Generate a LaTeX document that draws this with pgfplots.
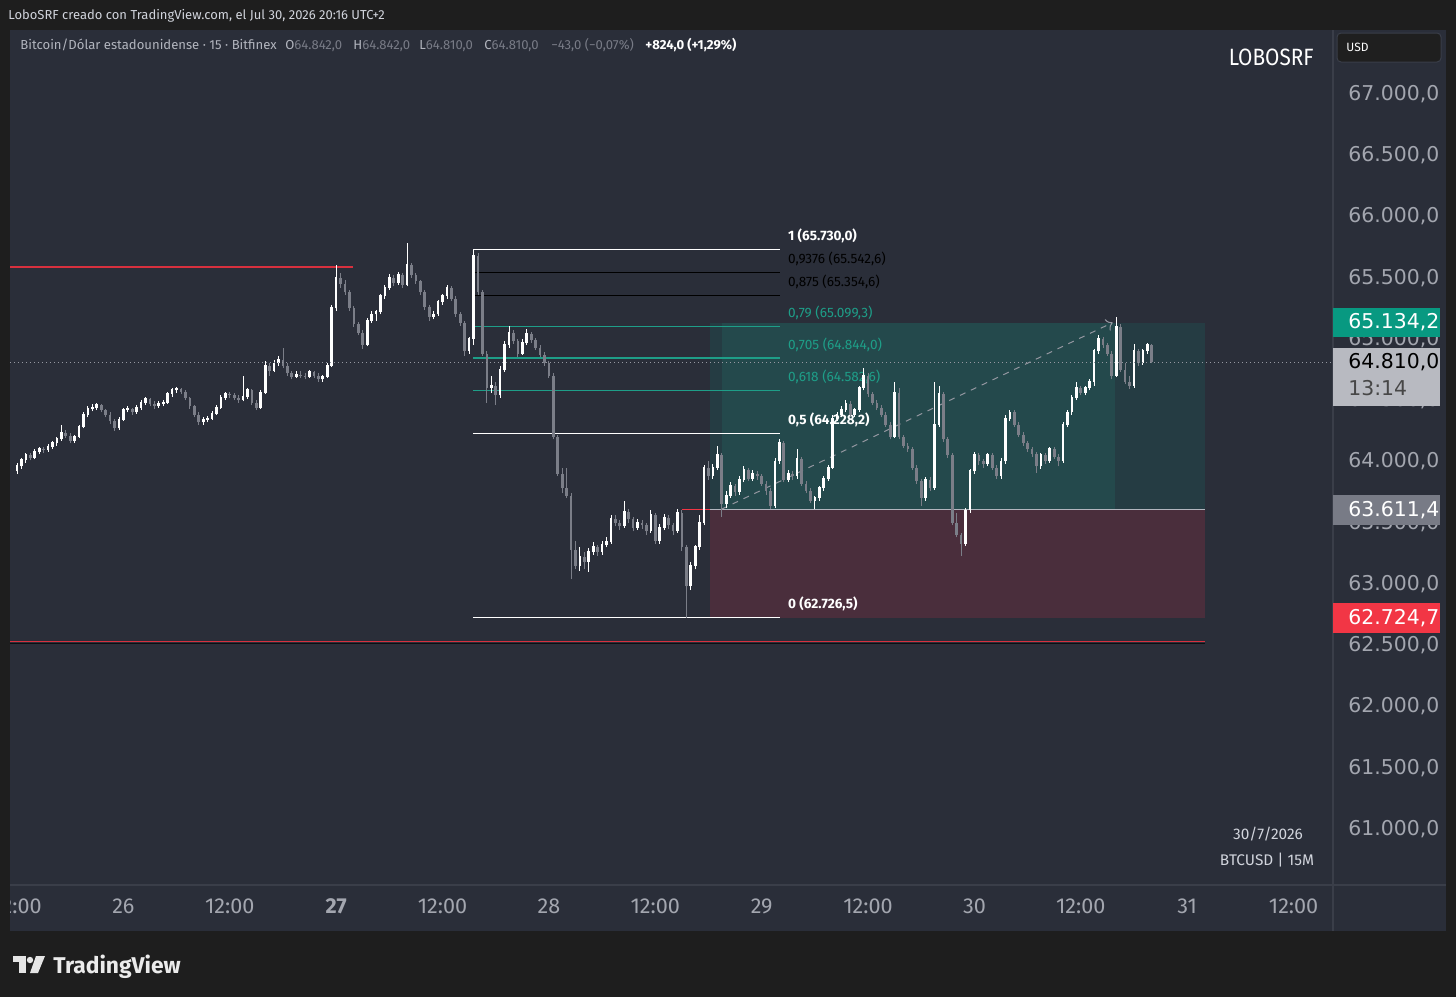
\documentclass[border=0pt]{standalone}
\usepackage{fontspec}
\setmainfont{Fira Sans}
\newfontfamily\dvs{DejaVu Sans}
\usepackage{graphicx}
\usepackage{pgfplots}
\pgfplotsset{compat=1.18}
\usepackage{pgfplotstable}
\usetikzlibrary{arrows.meta}
\definecolor{topbar}{HTML}{1E1E1E}
\definecolor{chartbg}{HTML}{2A2E39}
\definecolor{sep}{HTML}{3A3E49}
\definecolor{tickc}{HTML}{A3A6AF}
\definecolor{upc}{HTML}{FFFFFF}
\definecolor{dnc}{HTML}{7B7E88}
\definecolor{tvred}{HTML}{F23645}
\definecolor{lvred}{HTML}{D8303E}
\definecolor{tvgreen}{HTML}{089981}
\definecolor{fibteal}{HTML}{1E9E88}
\definecolor{glight}{RGB}{36,73,76}
\definecolor{gdark}{RGB}{37,60,67}
\definecolor{rzone}{RGB}{74,46,60}
\definecolor{lgrey}{HTML}{B2B5BE}
\definecolor{dgrey}{HTML}{787B86}
\definecolor{boxgrey}{HTML}{B8BAC1}
\definecolor{txt}{HTML}{D1D4DC}
\definecolor{dotc}{HTML}{9598A1}

\pgfplotstableread{
o h l c
63920 63990 63900 63960
63960 64030 63940 64010
64010 64070 63990 64050
64050 64070 64010 64030
64030 64100 64020 64080
64080 64120 64060 64100
64100 64120 64070 64090
64090 64140 64080 64120
64120 64170 64100 64150
64150 64200 64130 64180
64180 64300 64170 64230
64230 64260 64190 64210
64210 64230 64150 64170
64170 64220 64150 64200
64200 64300 64190 64280
64280 64400 64270 64380
64380 64450 64360 64430
64430 64470 64410 64440
64440 64480 64420 64460
64460 64470 64400 64420
64420 64430 64360 64380
64380 64400 64310 64330
64330 64350 64250 64270
64270 64360 64260 64340
64340 64440 64330 64420
64420 64450 64400 64430
64430 64440 64380 64400
64400 64460 64390 64440
64440 64500 64420 64480
64480 64530 64460 64510
64510 64520 64450 64470
64470 64490 64430 64450
64450 64490 64440 64470
64470 64500 64450 64480
64480 64570 64470 64550
64550 64600 64530 64580
64580 64610 64560 64590
64590 64600 64550 64570
64570 64580 64500 64520
64520 64530 64430 64450
64450 64460 64360 64380
64380 64400 64300 64320
64320 64360 64300 64340
64340 64370 64320 64350
64350 64410 64340 64390
64390 64460 64380 64440
64440 64540 64430 64520
64520 64570 64500 64550
64550 64570 64520 64540
64540 64560 64500 64520
64520 64540 64480 64500
64500 64700 64490 64530
64530 64600 64510 64580
64580 64590 64460 64480
64480 64500 64420 64440
64440 64580 64430 64560
64560 64820 64550 64780
64780 64800 64700 64740
64740 64830 64730 64800
64800 64860 64780 64830
64830 64930 64760 64780
64780 64800 64700 64720
64720 64740 64670 64690
64690 64740 64680 64710
64710 64740 64680 64700
64700 64720 64670 64690
64690 64750 64680 64730
64730 64740 64680 64700
64700 64720 64650 64670
64670 64710 64650 64690
64690 64800 64680 64780
64780 65280 64770 65250
65250 65600 65230 65500
65500 65540 65420 65450
65450 65480 65360 65380
65380 65400 65230 65250
65250 65270 65100 65120
65120 65140 65030 65050
65050 65070 64920 64950
64950 65170 64940 65150
65150 65230 65130 65200
65200 65240 65150 65220
65220 65370 65200 65350
65350 65440 65330 65420
65420 65530 65400 65500
65500 65520 65430 65460
65460 65550 65440 65520
65520 65540 65420 65440
65440 65780 65430 65600
65600 65620 65500 65520
65520 65540 65450 65470
65470 65480 65360 65380
65380 65400 65240 65260
65260 65280 65150 65180
65180 65230 65160 65200
65200 65320 65190 65300
65300 65370 65280 65350
65350 65440 65330 65420
65420 65430 65310 65330
65330 65350 65180 65200
65200 65220 65110 65130
65130 65150 64860 64900
64900 65020 64880 65000
65000 65730 64950 65680
65680 65700 65360 65380
65380 65400 64860 64880
64880 64900 64480 64600
64600 64700 64560 64620
64620 64650 64460 64540
64540 64780 64520 64750
64750 64980 64730 64950
64950 65110 64930 65050
65050 65070 64960 64980
64980 65000 64850 64880
64880 65000 64870 64970
64970 65080 64950 65040
65040 65060 64970 64990
64990 65010 64910 64930
64930 64950 64850 64870
64870 64890 64780 64800
64800 64820 64680 64700
64700 64720 64180 64200
64200 64220 63880 63900
63900 63950 63740 63780
63780 63950 63700 63720
63720 63740 63040 63280
63280 63350 63120 63150
63150 63300 63110 63220
63220 63260 63120 63180
63180 63290 63100 63260
63260 63340 63240 63300
63300 63320 63230 63260
63260 63350 63240 63320
63320 63380 63300 63340
63340 63560 63330 63530
63530 63560 63470 63500
63500 63520 63440 63470
63470 63680 63460 63590
63590 63610 63500 63530
63530 63550 63430 63460
63460 63530 63440 63500
63500 63520 63450 63480
63480 63500 63400 63430
63430 63600 63420 63560
63560 63580 63330 63350
63350 63490 63330 63460
63460 63570 63440 63540
63540 63560 63450 63480
63480 63500 63400 63430
63430 63610 63420 63580
63580 63600 63270 63300
63300 63320 62726 62980
62980 63180 62950 63150
63150 63320 63120 63300
63300 63560 63280 63500
63500 63970 63480 63950
63950 64000 63850 63880
63880 63980 63860 63950
63950 64130 63930 64050
64050 64070 63550 63650
63650 63760 63620 63720
63720 63830 63700 63800
63800 63820 63720 63750
63750 63880 63730 63850
63850 63960 63830 63930
63930 63950 63840 63860
63860 63930 63840 63900
63900 63920 63850 63880
63880 63900 63800 63820
63820 63840 63730 63760
63760 63780 63610 63640
63640 64030 63620 64000
64000 64180 63980 64150
64150 64170 63830 63850
63850 63930 63830 63900
63900 63920 63850 63880
63880 64100 63860 64020
64020 64040 63800 63820
63820 63840 63740 63760
63760 63780 63660 63680
63680 63720 63610 63700
63700 63800 63680 63780
63780 63880 63760 63860
63860 63970 63840 63950
63950 64380 63940 64350
64350 64400 64330 64380
64380 64450 64360 64420
64420 64500 64400 64470
64470 64490 64360 64380
64380 64440 64360 64420
64420 64620 64400 64600
64600 64760 64580 64700
64700 64720 64530 64550
64550 64570 64460 64480
64480 64500 64420 64440
64440 64460 64360 64380
64380 64400 64280 64300
64300 64320 64180 64200
64200 64650 64190 64560
64560 64600 64180 64200
64200 64220 64110 64130
64130 64150 64080 64100
64100 64120 63930 63950
63950 63970 63820 63840
63840 63860 63640 63700
63700 63870 63680 63850
63850 63870 63760 63780
63780 64650 63770 64300
64300 64620 64280 64550
64550 64570 64160 64180
64180 64200 64030 64050
64050 64070 63480 63500
63500 63580 63380 63400
63400 63420 63230 63330
63330 63620 63310 63600
63600 63940 63580 63920
63920 64080 63900 64050
64050 64070 63970 64000
64000 64020 63950 63980
63980 64070 63960 64050
64050 64070 63930 63950
63950 63970 63860 63880
63880 64030 63860 64000
64000 64380 63980 64350
64350 64420 64330 64400
64400 64420 64280 64300
64300 64320 64200 64220
64220 64240 64130 64150
64150 64170 64080 64100
64100 64120 64040 64060
64060 64080 63910 63960
63960 64070 63940 64050
64050 64070 63980 64000
64000 64120 63990 64100
64100 64120 64020 64040
64040 64060 63960 64000
64000 64320 63990 64300
64300 64420 64280 64400
64400 64540 64380 64520
64520 64650 64500 64600
64600 64620 64540 64560
64560 64620 64540 64600
64600 64670 64580 64650
64650 64920 64620 64900
64900 65030 64880 65000
65000 65020 64930 64950
64950 64970 64860 64880
64880 64900 64670 64700
64700 65180 64690 65100
65100 65120 64730 64750
64750 64800 64630 64650
64650 64700 64590 64620
64620 64960 64600 64900
64900 64920 64780 64800
64800 64920 64790 64900
64900 64970 64880 64950
64950 64960 64800 64810
}\candles

\begin{document}
\begin{tikzpicture}
\begin{scope}[x=0.5pt,y=-0.5pt]
\fill[topbar] (0,0) rectangle (1456,997);
\fill[chartbg] (10,30) rectangle (1446,931);
\draw[sep, line width=0.6pt] (1333,30) -- (1333,931);
\draw[sep, line width=0.6pt] (10,885) -- (1446,885);
\end{scope}
\begin{axis}[
  at={(5pt,-442.5pt)}, anchor=south west,
  width=661.5pt, height=427.5pt, scale only axis,
  xmin=-1.58, xmax=296.9, ymin=60543, ymax=67522,
  clip=false,
  axis line style={draw=none},
  tick style={draw=none}, major tick length=0pt,
  scaled y ticks=false,
  ytick={61000,61500,...,67000},
  yticklabel pos=right,
  yticklabel style={anchor=west, inner sep=0pt, xshift=7.5pt, font=\dvs\fontsize{10.2}{12}\selectfont, text=tickc, /pgf/number format/.cd, fixed, fixed zerofill, precision=1, 1000 sep={.}, dec sep={,}, assume math mode=true},
  xtick={0,24,...,288},
  xticklabels={12:00,26,12:00,\textbf{27},12:00,28,12:00,29,12:00,30,12:00,31,12:00},
  xticklabel style={anchor=base, inner sep=0pt, yshift=-14pt, font=\fontsize{10.8}{12}\selectfont, text=tickc},
]
% position tool
\fill[rzone] (axis cs:156.3,62724.7) rectangle (axis cs:268,63611.4);
\fill[gdark] (axis cs:156.3,63611.4) rectangle (axis cs:268,65134.2);
\fill[glight] (axis cs:159,63611.4) rectangle (axis cs:247.7,65134.2);
\draw[lgrey, line width=0.6pt] (axis cs:156.3,63611.4) -- (axis cs:268,63611.4);
\draw[dotc, dash pattern=on 3pt off 3pt, line width=0.5pt, -{To[length=3pt]}] (axis cs:159,63611.4) -- (axis cs:247.2,65134.2);
% red levels
\draw[lvred, line width=0.8pt] (axis cs:-1.58,65590) -- (axis cs:75.8,65590);
\draw[black!70!chartbg, line width=0.5pt] (axis cs:-1.58,62515) -- (axis cs:268,62515);
\draw[lvred, line width=0.8pt] (axis cs:-1.58,62530) -- (axis cs:268,62530);
\draw[tvred, line width=0.6pt] (axis cs:150,63611.4) -- (axis cs:156.3,63611.4);
% fibonacci
\draw[white, line width=0.9pt] (axis cs:102.9,65730) -- (axis cs:172.1,65730);
\draw[black, line width=0.6pt] (axis cs:102.9,65542.6) -- (axis cs:172.1,65542.6);
\draw[black, line width=0.6pt] (axis cs:102.9,65354.6) -- (axis cs:172.1,65354.6);
\draw[fibteal, line width=0.6pt] (axis cs:102.9,65099.3) -- (axis cs:172.1,65099.3);
\draw[fibteal, line width=0.6pt] (axis cs:102.9,64844.0) -- (axis cs:172.1,64844.0);
\draw[fibteal, line width=0.6pt] (axis cs:102.9,64582.6) -- (axis cs:172.1,64582.6);
\draw[white, line width=0.9pt] (axis cs:102.9,64228.2) -- (axis cs:172.1,64228.2);
\draw[white, line width=0.9pt] (axis cs:102.9,62726.5) -- (axis cs:172.1,62726.5);
\begin{scope}[every node/.style={anchor=base west, inner sep=0pt, yshift=4.5pt, font=\fontsize{6.8}{8}\selectfont}]
\node[text=white, font=\fontsize{6.8}{8}\selectfont\bfseries] at (axis cs:173.9,65730) {1 (65.730,0)};
\node[text=black] at (axis cs:173.9,65542.6) {0,9376 (65.542,6)};
\node[text=black] at (axis cs:173.9,65354.6) {0,875 (65.354,6)};
\node[text=fibteal] at (axis cs:173.9,65099.3) {0,79 (65.099,3)};
\node[text=fibteal] at (axis cs:173.9,64844.0) {0,705 (64.844,0)};
\node[text=fibteal] at (axis cs:173.9,64582.6) {0,618 (64.582,6)};
\node[text=white, font=\fontsize{6.8}{8}\selectfont\bfseries] at (axis cs:173.9,64228.2) {0,5 (64.228,2)};
\node[text=white, font=\fontsize{6.8}{8}\selectfont\bfseries] at (axis cs:173.9,62726.5) {0 (62.726,5)};
\end{scope}
% candles: wicks
\addplot[draw=none, mark=none, forget plot, error bars/.cd, y dir=plus, y explicit, error mark=none, error bar style={draw=upc, line width=0.45pt}]
  table[x expr=\coordindex, y expr={\thisrow{c}<\thisrow{o} ? nan : \thisrow{l}}, y error plus expr={\thisrow{h}-\thisrow{l}}] {\candles};
\addplot[draw=none, mark=none, forget plot, error bars/.cd, y dir=plus, y explicit, error mark=none, error bar style={draw=dnc, line width=0.45pt}]
  table[x expr=\coordindex, y expr={\thisrow{c}<\thisrow{o} ? \thisrow{l} : nan}, y error plus expr={\thisrow{h}-\thisrow{l}}] {\candles};
% candles: bodies
\addplot[draw=none, mark=none, forget plot, error bars/.cd, y dir=plus, y explicit, error mark=none, error bar style={draw=upc, line width=1.35pt}]
  table[x expr=\coordindex, y expr={\thisrow{c}<\thisrow{o} ? nan : \thisrow{o}}, y error plus expr={\thisrow{c}-\thisrow{o}+8}] {\candles};
\addplot[draw=none, mark=none, forget plot, error bars/.cd, y dir=plus, y explicit, error mark=none, error bar style={draw=dnc, line width=1.35pt}]
  table[x expr=\coordindex, y expr={\thisrow{c}<\thisrow{o} ? \thisrow{c} : nan}, y error plus expr={\thisrow{o}-\thisrow{c}}] {\candles};
% current price dotted line
\draw[dotc, line width=0.5pt, dash pattern=on 0.6pt off 1.4pt] (axis cs:-1.58,64810) -- (axis cs:296.9,64810);
\end{axis}
\begin{scope}[x=0.5pt,y=-0.5pt]
\fill[topbar] (0,30) rectangle (10,931);
\fill[topbar] (1446,30) rectangle (1456,931);
% price labels
\fill[tvgreen] (1333,308) rectangle (1440,337);
\node[anchor=west, inner sep=0pt, text=white, font=\dvs\fontsize{10.2}{12}\selectfont] at (1348,322.5) {65.134,2};
\fill[boxgrey] (1333,348) rectangle (1440,406);
\node[anchor=west, inner sep=0pt, text=black, font=\dvs\fontsize{10.2}{12}\selectfont] at (1348,362) {64.810,0};
\node[anchor=west, inner sep=0pt, text=black!72, font=\dvs\fontsize{10.2}{12}\selectfont] at (1348,388) {13:14};
\fill[dgrey] (1333,495) rectangle (1440,525);
\node[anchor=west, inner sep=0pt, text=white, font=\dvs\fontsize{10.2}{12}\selectfont] at (1348,510) {63.611,4};
\fill[tvred] (1333,603) rectangle (1440,633);
\node[anchor=west, inner sep=0pt, text=white, font=\dvs\fontsize{10.2}{12}\selectfont] at (1348,618) {62.724,7};
% USD box
\draw[fill=black!88, draw=sep, line width=0.5pt, rounded corners=2pt] (1337,33) rectangle (1441,62);
\node[anchor=west, inner sep=0pt, text=white, font=\fontsize{6}{7}\selectfont] at (1346,47.5) {USD};
% watermark
\node[anchor=east, inner sep=0pt, text=white] at (1314,57) {\scalebox{0.88}[1]{\fontsize{11.8}{13}\selectfont LOBOSRF}};
% top title
\node[anchor=base west, inner sep=0pt, text=txt, font=\fontsize{6.5}{8}\selectfont] at (8,19.5) {LoboSRF creado con TradingView.com, el Jul 30, 2026 20:16 UTC+2};
% legend
\begin{scope}[every node/.style={anchor=base west, inner sep=0pt, font=\fontsize{6.55}{8}\selectfont}]
\node[text=lgrey] at (20,49) {Bitcoin/Dólar estadounidense · 15 · Bitfinex};
\node at (285,49) {\color{lgrey}O\color{dgrey}64.842,0};
\node at (353,49) {\color{lgrey}H\color{dgrey}64.842,0};
\node at (419,49) {\color{lgrey}L\color{dgrey}64.810,0};
\node at (484,49) {\color{lgrey}C\color{dgrey}64.810,0};
\node[text=dgrey] at (551,49) {−43,0 (−0,07\%)};
\node[text=white, font=\fontsize{6.55}{8}\selectfont\bfseries] at (645,49) {+824,0 (+1,29\%)};
\end{scope}
% bottom right info
\node[inner sep=0pt, text=txt, font=\fontsize{7.7}{9}\selectfont] at (1268,834) {30/7/2026};
\node[inner sep=0pt, text=txt, font=\fontsize{7.7}{9}\selectfont] at (1267,860) {BTCUSD | 15M};
% TradingView logo
\fill[white!90!black] (13,956) rectangle (26,962);
\fill[white!90!black] (19,956) rectangle (26,973);
\fill[white!90!black] (30,960) circle (3.2);
\fill[white!90!black] (36,956) -- (45,956) -- (38,973) -- (30,973) -- cycle;
\node[anchor=base west, inner sep=0pt, text=white!92!black, font=\fontsize{11.4}{13}\selectfont\bfseries] at (53,973) {TradingView};
\end{scope}
\pgfresetboundingbox
\path (0pt,0pt) rectangle (728pt,-498.5pt);
\end{tikzpicture}
\end{document}
